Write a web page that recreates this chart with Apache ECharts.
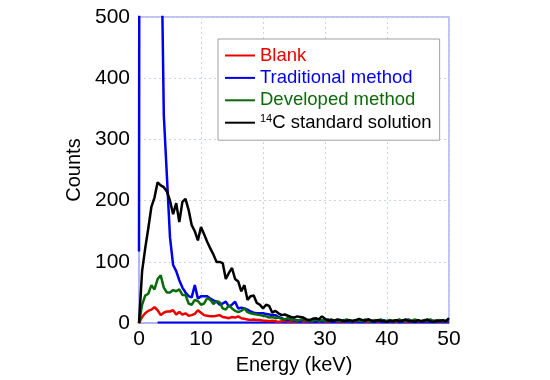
<!DOCTYPE html>
<html><head><meta charset="utf-8">
<script src="https://cdn.jsdelivr.net/npm/echarts@6/dist/echarts.min.js"></script>
<style>html,body{margin:0;padding:0;background:#fff}#c{width:550px;height:380px}</style>
</head><body><div id="c"></div>
<script>
// Energy sample grid (keV)
const energy = [
  0,0.5,1,1.5,2,2.5,3,3.5,4,4.5,
  5,5.5,6,6.5,7,7.5,8,8.5,9,9.5,
  10,10.5,11,11.5,12,12.5,13,13.5,14,14.5,
  15,15.5,16,16.5,17,17.5,18,18.5,19,19.5,
  20,20.5,21,21.5,22,22.5,23,23.5,24,24.5,
  25,25.5,26,26.5,27,27.5,28,28.5,29,29.5,
  30,30.5,31,31.5,32,32.5,33,33.5,34,34.5,
  35,35.5,36,36.5,37,37.5,38,38.5,39,39.5,
  40,40.5,41,41.5,42,42.5,43,43.5,44,44.5,
  45,45.5,46,46.5,47,47.5,48,48.5,49,49.5,
  50];
const blank = [
  0,10,16,20,22,26,21,13,17,19,
  19,21,14,18,14,16,12,13,15,21,
  17,13,12,11,11,12,13,10,9,8,
  10,9,11,8,7,6,5,6,5,5,
  4,4,3,4,3,2,3,4,2,3,
  2,3,4,2,3,2,4,3,2,3,
  3,2,4,3,2,3,2,4,3,2,
  3,5,2,3,2,4,3,2,5,3,
  2,3,4,2,3,5,2,3,2,4,
  3,2,4,3,2,3,4,2,3,2,
  3];
const traditional = [
  117,5000,4000,3000,2000,1500,1000,700,340,240,
  140,95,85,70,58,50,44,42,62,40,
  44,44,44,40,37,35,30,32,35,27,
  30,35,24,25,24,22,19,17,16,16,
  16,15,14,13,13,10,8,6,5,6,
  4,5,3,6,4,3,5,2,4,3,
  4,6,3,2,4,3,5,4,2,3,
  5,3,2,4,6,3,2,4,3,5,
  2,4,3,5,2,3,4,6,2,3,
  4,2,5,3,2,4,3,5,2,3,
  4];
const developed = [
  0,30,45,48,62,55,72,78,58,50,
  50,54,52,55,46,46,32,30,38,36,
  30,32,41,38,31,36,34,24,22,29,
  24,20,18,20,24,18,16,15,14,13,
  12,11,9,10,8,9,7,6,8,5,
  6,4,5,7,4,5,3,6,4,5,
  4,3,6,4,5,3,4,6,3,4,
  5,4,3,6,4,3,5,4,6,3,
  4,5,3,4,6,3,4,5,3,6,
  4,3,5,4,6,3,4,5,3,4,
  5];
const standard = [
  0,85,122,155,190,205,230,225,222,215,
  200,178,196,165,198,203,185,160,150,135,
  157,145,133,122,112,100,100,98,72,82,
  90,72,68,52,62,38,44,45,33,30,
  24,30,28,17,20,16,13,14,12,10,
  9,11,10,9,6,5,7,8,6,11,
  7,4,5,4,6,5,3,4,5,3,
  5,7,5,4,6,4,3,5,4,3,
  2,4,3,5,3,4,6,3,4,2,
  5,3,4,6,3,2,4,3,5,3,
  8];
const baseline = [
  null,null,null,null,null,null,1,1,1,1,
  1,1,1,1,1,1,1,1,1,1,
  1,1,1,1,1,1,1,1,1,1,
  1,1,1,1,1,1,1,1,1,1,
  1,1,1,1,1,1,1,1,1,1,
  1,1,1,1,1,1,1,1,1,1,
  1,1,1,1,1,1,1,1,1,1,
  1,1,1,1,1,1,1,1,1,1,
  1,1,1,1,1,1,1,1,1,1,
  1,1,1,1,1,1,1,1,1,1,
  1];
const seriesNames = ['Blank','Traditional method','Developed method','14C standard solution'];
const seriesColors = ['#ee0000','#0000ee','#0b6b0b','#000000'];

const pairs = arr => energy.map((e,i) => [e, arr[i]]);
const font = 'Liberation Sans, Arial, sans-serif';
const axisColor = '#aab0f2';
const gridLine = {show:true, lineStyle:{color:'#cdd0ee', type:[2,3], width:1}};

const chart = echarts.init(document.getElementById('c'));
chart.setOption({
  animation:false,
  backgroundColor:'#fff',
  grid:{left:139, right:101, top:17, bottom:55, show:true, borderColor:axisColor, borderWidth:1.5, backgroundColor:'transparent'},
  legend:{
    orient:'vertical', left:218, top:39,
    backgroundColor:'#fff', borderColor:'#a0a0a0', borderWidth:1,
    padding:[7,8,8,7], itemGap:3.4, itemWidth:30, itemHeight:2,
    icon:'rect',
    textStyle:{fontFamily:font, fontSize:18.5, lineHeight:18,
      rich:{sup:{fontSize:11, lineHeight:18, verticalAlign:'top', color:'#000', fontFamily:font}}},
    formatter: n => n === '14C standard solution' ? '{sup|14}C standard solution' : n,
    data: seriesNames.map((n,i)=>({name:n, icon:'rect', textStyle:{color:seriesColors[i]}}))
  },
  xAxis:{
    type:'value', min:0, max:50, interval:10,
    axisLine:{show:true, lineStyle:{color:axisColor, width:1.5}},
    axisTick:{show:false},
    splitLine:gridLine,
    axisLabel:{color:'#000', fontSize:21, fontFamily:font, margin:6},
    name:'Energy (keV)', nameLocation:'middle', nameGap:22,
    nameTextStyle:{color:'#000', fontSize:20, fontFamily:font}
  },
  yAxis:{
    type:'value', min:0, max:500, interval:100,
    axisLine:{show:true, lineStyle:{color:axisColor, width:1.5}},
    axisTick:{show:false},
    splitLine:gridLine,
    axisLabel:{color:'#000', fontSize:21, fontFamily:font, margin:9},
    name:'Counts', nameLocation:'middle', nameGap:52,
    nameTextStyle:{color:'#000', fontSize:20, fontFamily:font}
  },
  series:[
    {name:'baseline', type:'line', symbol:'none', clip:true, data:pairs(baseline), lineStyle:{color:'#0000ee', width:2}, itemStyle:{color:'#0000ee'}, z:1},
    ...[blank, traditional, developed, standard].map((arr,i)=>({
      name:seriesNames[i], type:'line', symbol:'none', clip:true,
      data:pairs(arr),
      lineStyle:{color:seriesColors[i], width:2.5},
      itemStyle:{color:seriesColors[i]}, z:2+i
    }))
  ]
});
</script></body></html>
